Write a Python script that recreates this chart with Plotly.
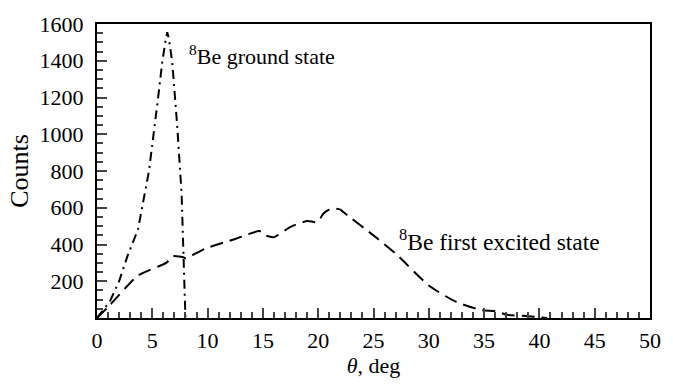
import plotly.graph_objects as go

ground_theta = [0, 1.16, 2.0, 2.8, 3.7, 4.4, 4.7, 5.5, 5.9, 6.2, 6.35, 6.5, 6.8, 7.25, 7.4, 7.65, 7.95, 8.0]
ground_counts = [0, 90, 200, 345, 480, 700, 800, 1186, 1393, 1510, 1555, 1520, 1393, 1048, 904, 675, 90, 0]

excited_theta = [0, 1.16, 3.7, 6.25, 6.8, 7.0, 7.85, 8.0, 9.8, 12.5, 14.7, 15.2, 16.0, 17.5,
                 19.0, 19.9, 20.5, 21.0, 21.5, 22.0, 22.3, 25.3, 27.1, 30, 32.4, 34.8, 36, 37.2, 39, 40.7]
excited_counts = [0, 70, 230, 300, 335, 337, 330, 325, 378, 430, 473, 450, 440, 496,
                  528, 522, 570, 590, 595, 590, 575, 435, 345, 177, 90, 42, 37, 16, 10, 0]

x_ticks = list(range(0, 51, 5))
y_ticks = list(range(200, 1601, 200))

font = "Liberation Serif"
fnt = dict(family=font, size=22, color="black")

fig = go.Figure()
fig.add_trace(go.Scatter(x=ground_theta, y=ground_counts, mode="lines",
                         line=dict(color="black", width=2, dash="9px,5px,2px,5px"),
                         showlegend=False))
fig.add_trace(go.Scatter(x=excited_theta, y=excited_counts, mode="lines",
                         line=dict(color="black", width=2, dash="13px,7px"),
                         line_shape="spline", line_smoothing=0.6,
                         showlegend=False))

fig.add_annotation(x=8.1, y=1430, text="<sup>8</sup>Be ground state", showarrow=False,
                   xanchor="left", yanchor="middle", font=fnt)
fig.add_annotation(x=27.1, y=425, text="<sup>8</sup>Be first excited state", showarrow=False,
                   xanchor="left", yanchor="middle", font=dict(family=font, size=23.5, color="black"))

fig.update_layout(
    width=673, height=385,
    margin=dict(l=97, r=16, t=19, b=65),
    paper_bgcolor="white", plot_bgcolor="white",
    font=fnt,
    xaxis=dict(range=[0, 50], tickvals=x_ticks, ticks="inside", ticklen=10, tickwidth=1.5,
               tickfont=fnt, ticklabelstandoff=2,
               showline=True, linecolor="black", linewidth=2, mirror=True, showgrid=False,
               zeroline=False, title=dict(text="<i>θ</i>, deg", standoff=4, font=fnt),
               minor=dict(dtick=1, ticks="inside", ticklen=6, tickwidth=1.5, showgrid=False)),
    yaxis=dict(range=[0, 1600], tickvals=y_ticks, ticks="inside", ticklen=10, tickwidth=1.5,
               tickfont=fnt, ticklabelstandoff=7,
               showline=True, linecolor="black", linewidth=2, mirror=True, showgrid=False,
               zeroline=False, title=dict(text="Counts", standoff=3,
                                          font=dict(family=font, size=26, color="black")),
               minor=dict(dtick=50, ticks="inside", ticklen=6, tickwidth=1.5, showgrid=False)),
)

fig.write_html("out.html")
